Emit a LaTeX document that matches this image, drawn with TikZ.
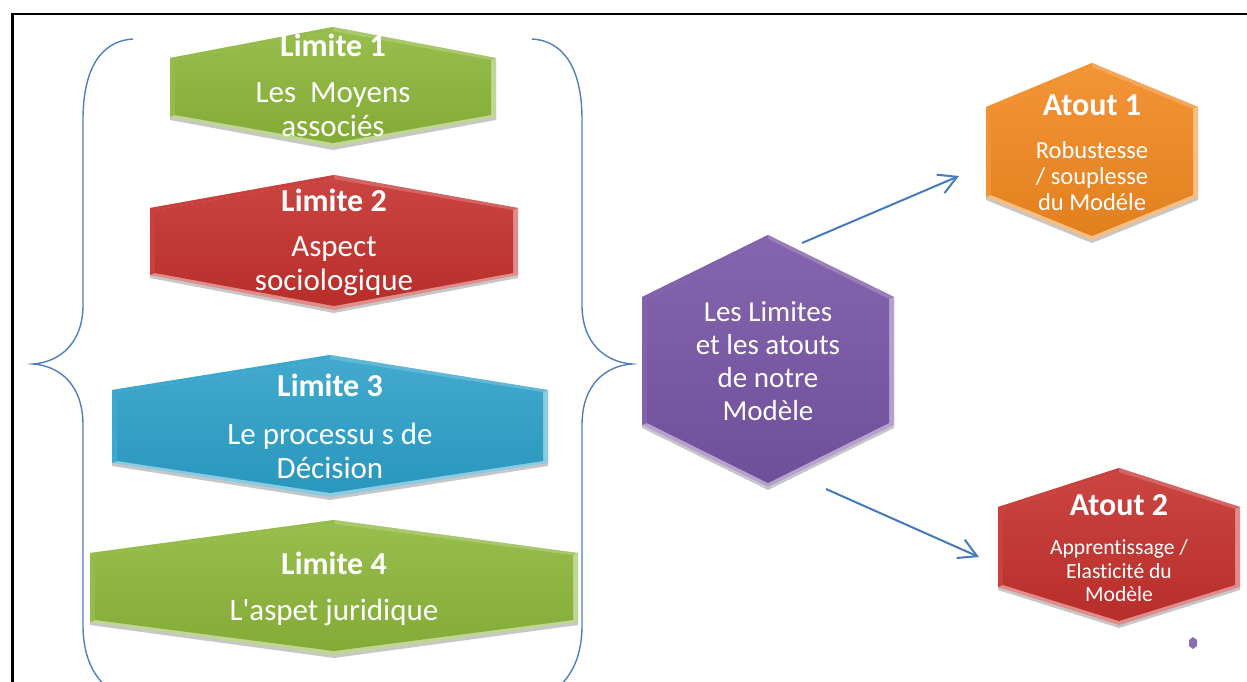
\documentclass[tikz,border=0pt]{standalone}
\usepackage{fontspec}
\setmainfont{Carlito}[Ligatures={NoCommon}]
\usetikzlibrary{arrows.meta,shadows}
\definecolor{cgreen}{RGB}{140,182,58}
\definecolor{cred}{RGB}{196,48,44}
\definecolor{cblue}{RGB}{44,160,200}
\definecolor{cpurple}{RGB}{118,84,164}
\definecolor{corange}{RGB}{241,136,32}
\definecolor{cline}{RGB}{70,122,190}
\definecolor{cbrace}{RGB}{80,126,190}
% #1 cx, #2 half width, #3 top, #4 upper shoulder, #5 lower shoulder, #6 bottom, #7 colour, #8 name
\newcommand\hexa[8]{%
  \coordinate (#8) at (#1,{(#3+#6)/2});
  \path[fill=#7!55!white, drop shadow={shadow xshift=0pt, shadow yshift=-3pt, opacity=.22, fill=black}]
    (#1,#3) -- ({#1+#2},#4) -- ({#1+#2},#5) -- (#1,#6) -- ({#1-#2},#5) -- ({#1-#2},#4) -- cycle;
  \fill[#7!92!white] (#1,#3) -- ({#1-#2},#4) -- ({#1-#2},#5) -- ({#1-#2+5},{#5-2}) -- ({#1-#2+5},{#4+2}) -- (#1,{#3+4}) -- cycle;
  \fill[#7!75!white] (#1,#3) -- ({#1+#2},#4) -- ({#1+#2-5},{#4+2}) -- (#1,{#3+4}) -- cycle;
  \shade[top color=#7!90!white, bottom color=#7!94!black]
    (#1,{#3+4}) -- ({#1+#2-5},{#4+2}) -- ({#1+#2-5},{#5-2}) -- (#1,{#6-4}) -- ({#1-#2+5},{#5-2}) -- ({#1-#2+5},{#4+2}) -- cycle;
}
\tikzset{
  ttl/.style={text=white, inner sep=0pt, font=\bfseries\fontsize{32}{36}\selectfont},
  bod/.style={text=white, inner sep=0pt, align=center, font=\fontsize{31}{34}\selectfont},
  bodsmall/.style={text=white, inner sep=0pt, align=center, font=\fontsize{24.5}{26}\selectfont},
  bodtiny/.style={text=white, inner sep=0pt, align=center, font=\fontsize{21.6}{23.5}\selectfont},
  conn/.style={draw=cline, line width=2pt, -{Straight Barb[length=18pt,width=20pt,line width=2pt]}},
  brace/.style={draw=cbrace, line width=1.4pt},
}
\begin{document}
\begin{tikzpicture}[x=1pt,y=-1pt]
\useasboundingbox (0,0) rectangle (1247,681);
\clip (0,0) rectangle (1247,681);
\fill[white] (0,0) rectangle (1247,681);
% frame
\draw[line width=2.5pt] (12.5,700) -- (12.5,14) -- (1260,14);
% braces
\draw[brace] (133,39) .. controls (100,41) and (83,70) .. (83,120) -- (83,305)
  .. controls (83,343) and (60,362) .. (33,364)
  .. controls (60,366) and (83,385) .. (83,425) -- (83,625)
  .. controls (83,665) and (100,690) .. (130,700);
\draw[brace] (532,39) .. controls (565,41) and (582,70) .. (582,120) -- (582,305)
  .. controls (582,343) and (605,362) .. (632,364)
  .. controls (605,366) and (582,385) .. (582,425) -- (582,625)
  .. controls (582,665) and (565,690) .. (535,700);
% Limite hexagons
\hexa{333}{163}{27}{58}{117}{147}{cgreen}{h1}
\node[ttl] (l1t) at (333,45) {Limite 1};
\node[bod] (l1b) at (333,110) {Les\ \ Moyens\\associés};
\hexa{334}{184}{175}{208}{275}{310}{cred}{h2}
\node[ttl] (l2t) at (334,200) {Limite 2};
\node[bod] (l2b) at (334,266) {Aspect\\sociologique};
\hexa{330}{218}{355}{390}{463}{497}{cblue}{h3}
\node[ttl] (l3t) at (330,385) {Limite 3};
\node[bod] (l3b) at (330,451) {Le processu s de\\Décision};
\hexa{334}{244}{520}{553}{622}{655}{cgreen}{h4}
\node[ttl] (l4t) at (334,563) {Limite 4};
\node[bod] (l4b) at (334,612) {L\textquotesingle aspet juridique};
% central hexagon
\hexa{768}{126}{235}{297}{425}{487}{cpurple}{hub}
\node[bod, font=\fontsize{29}{33}\selectfont] (hubt) at (768,361) {Les Limites\\et les atouts\\de notre\\Modèle};
% atouts
\hexa{1092}{106}{63}{107}{197}{240}{corange}{at1}
\node[ttl] (a1t) at (1092,105) {Atout 1};
\node[bodsmall] (a1b) at (1092,176) {Robustesse\\/ souplesse\\du Modéle};
\hexa{1119}{121}{468}{507}{587}{625}{cred}{at2}
\node[ttl] (a2t) at (1119,505) {Atout 2};
\node[bodtiny] (a2b) at (1119,571) {Apprentissage /\\Elasticité du\\Modèle};
% connectors
\coordinate (c1s) at (802,243);
\coordinate (c1e) at (959,176);
\coordinate (c2s) at (826,489);
\coordinate (c2e) at (979,557);
\draw[conn] (c1s) -- (c1e);
\draw[conn] (c2s) -- (c2e);
% small icon
\fill[cpurple!85!white] (1193,637) -- (1197,640) -- (1197,646) -- (1193,649) -- (1189,646) -- (1189,640) -- cycle;
\end{tikzpicture}
\end{document}
